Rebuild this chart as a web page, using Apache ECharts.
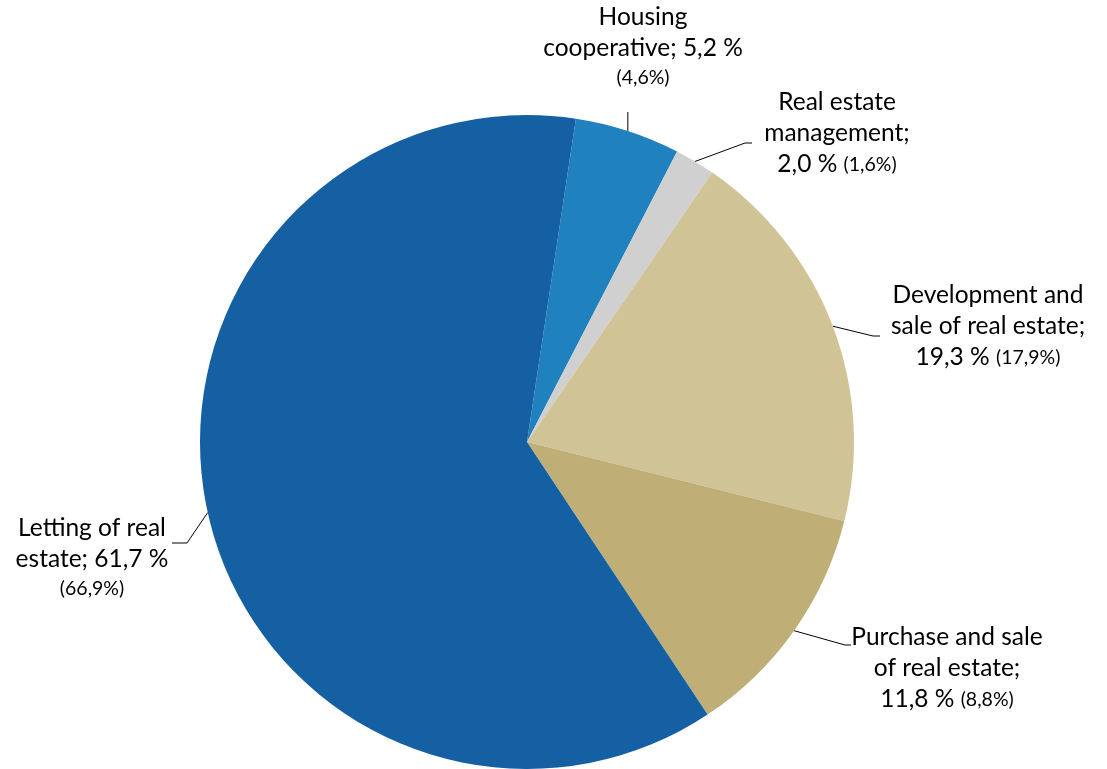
<!DOCTYPE html>
<html>
<head>
<meta charset="utf-8">
<style>
html,body{margin:0;padding:0;background:#fff;}
#chart{width:1107px;height:769px;}
</style>
<script src="https://cdn.jsdelivr.net/npm/echarts@6/dist/echarts.min.js"></script>
</head>
<body>
<div id="chart"></div>
<script>
// Data
var categories = ['Housing cooperative', 'Real estate management', 'Development and sale of real estate', 'Purchase and sale of real estate', 'Letting of real estate'];
var values = [5.2, 2.0, 19.3, 11.8, 61.7];
var previous = [4.6, 1.6, 17.9, 8.8, 66.9];
var labelLines = [
  ['Housing', 'cooperative; {v} %', '({p}%)'],
  ['Real estate', 'management;', '{v} % ({p}%)'],
  ['Development and', 'sale of real estate;', '{v} % ({p}%)'],
  ['Purchase and sale', 'of real estate;', '{v} % ({p}%)'],
  ['Letting of real', 'estate; {v} %', '({p}%)']
];
var colors = ['#2081BF', '#D0D0D0', '#D0C497', '#BFAE76', '#1560A3'];

function fmt(n){ return n.toFixed(1).replace('.', ','); }

// label layout (positions only)
var labelAnchors = [
  {x: 643, y: 2},
  {x: 837, y: 87},
  {x: 988, y: 280},
  {x: 947, y: 622},
  {x: 92,  y: 513}
];
var lineBends = [
  [[0, 112], [0, 112]],
  [[745, 143], [752, 143]],
  [[873, 336], [880, 336]],
  [[845, 645], [851, 645]],
  [[187, 543], [172, 543]]
];

function buildLabel(i){
  var v = fmt(values[i]), p = fmt(previous[i]);
  var out = [];
  labelLines[i].forEach(function(line){
    if (line.indexOf('({p}%)') === 0) {
      out.push('{b|(' + p + '%)}');
    } else if (line.indexOf(' ({p}%)') > 0) {
      var main = line.replace(' ({p}%)', '').replace('{v}', v);
      out.push('{a|' + main + ' }{b|(' + p + '%)}');
    } else {
      out.push('{a|' + line.replace('{v}', v) + '}');
    }
  });
  return out.join('\n');
}

var data = categories.map(function(c, i){
  return {
    name: c,
    value: values[i],
    itemStyle: {color: colors[i]},
    label: {formatter: buildLabel(i)}
  };
});

var FONT = 'Lato, "Open Sans", sans-serif';
var chart = echarts.init(document.getElementById('chart'), null, {renderer: 'canvas'});
chart.setOption({
  animation: false,
  backgroundColor: '#ffffff',
  series: [{
    type: 'pie',
    center: [527, 442],
    radius: [0, 327],
    startAngle: 81.4,
    clockwise: true,
    data: data,
    itemStyle: {borderWidth: 0},
    emphasis: {disabled: true},
    label: {
      show: true,
      position: 'outside',
      align: 'center',
      color: '#000',
      fontFamily: FONT,
      rich: {
        a: {fontSize: 24.5, lineHeight: 31, color: '#000', fontFamily: FONT},
        b: {fontSize: 19.5, lineHeight: 28, color: '#000', fontFamily: FONT}
      }
    },
    labelLine: {show: true, length: 10, length2: 10, lineStyle: {color: '#000', width: 1}},
    labelLayout: function(params){
      var i = params.dataIndex;
      var a = labelAnchors[i];
      var pts = params.labelLinePoints;
      var start = pts ? pts[0] : [0, 0];
      var b1 = lineBends[i][0].slice(), b2 = lineBends[i][1].slice();
      if (i === 0) { b1[0] = start[0]; b2[0] = start[0]; }
      return {
        x: a.x,
        y: a.y,
        align: 'center',
        verticalAlign: 'top',
        labelLinePoints: [start, b1, b2]
      };
    }
  }]
});
</script>
</body>
</html>
